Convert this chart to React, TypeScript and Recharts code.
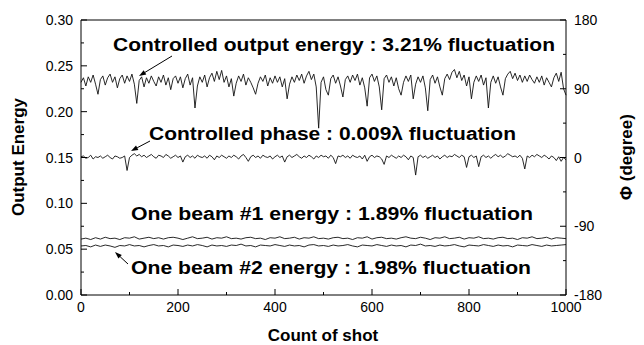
import { LineChart, Line, XAxis, YAxis, ReferenceLine } from "recharts";

// output energy, one value every 5 shots (0..1000)
const outputEnergy = [
  0.232, 0.237, 0.228, 0.238, 0.232, 0.24, 0.23, 0.219, 0.235, 0.239,
  0.229, 0.237, 0.241, 0.232, 0.238, 0.226, 0.236, 0.24, 0.231, 0.239,
  0.233, 0.241, 0.23, 0.209, 0.234, 0.238, 0.227, 0.237, 0.231, 0.239,
  0.233, 0.228, 0.238, 0.232, 0.24, 0.229, 0.237, 0.224, 0.236, 0.239,
  0.231, 0.238, 0.226, 0.236, 0.241, 0.229, 0.237, 0.204, 0.228, 0.238,
  0.232, 0.24, 0.227, 0.237, 0.242, 0.233, 0.244, 0.235, 0.245, 0.232,
  0.239, 0.227, 0.236, 0.217, 0.231, 0.239, 0.233, 0.241, 0.229, 0.237,
  0.232, 0.226, 0.219, 0.231, 0.238, 0.233, 0.24, 0.228, 0.237, 0.231,
  0.239, 0.232, 0.238, 0.227, 0.236, 0.214, 0.23, 0.238, 0.232, 0.24,
  0.234, 0.241, 0.231, 0.239, 0.244, 0.235, 0.241, 0.227, 0.182, 0.232,
  0.238, 0.224, 0.218, 0.236, 0.24, 0.231, 0.238, 0.228, 0.216, 0.235,
  0.239, 0.232, 0.24, 0.234, 0.241, 0.229, 0.237, 0.226, 0.206, 0.237,
  0.241, 0.233, 0.239, 0.227, 0.202, 0.236, 0.24, 0.232, 0.238, 0.228,
  0.237, 0.225, 0.218, 0.232, 0.239, 0.233, 0.24, 0.214, 0.23, 0.238,
  0.232, 0.239, 0.226, 0.201, 0.235, 0.24, 0.231, 0.238, 0.227, 0.218,
  0.236, 0.241, 0.235, 0.243, 0.246, 0.237, 0.244, 0.234, 0.24, 0.228,
  0.238, 0.214, 0.232, 0.239, 0.233, 0.24, 0.229, 0.237, 0.204, 0.232,
  0.239, 0.231, 0.238, 0.227, 0.218, 0.236, 0.241, 0.244, 0.236, 0.242,
  0.234, 0.24, 0.232, 0.239, 0.233, 0.24, 0.235, 0.231, 0.238, 0.232,
  0.239, 0.229, 0.237, 0.232, 0.227, 0.237, 0.242, 0.233, 0.243, 0.225,
  0.218,
];

// controlled phase in degrees, one value every 5 shots
const phaseDeg = [
  1, 2, -1, 0, 3, -2, 1, 0, 2, -1,
  1, 3, 0, -2, 2, 1, -1, 0, 2, -17,
  0, 3, 5, 2, 4, 1, 3, 0, 2, 4,
  1, -1, 3, 2, 0, 4, 2, -1, 1, 3,
  0, 2, -6, 1, 3, 0, 2, -1, 3, 1,
  0, 2, -1, 3, 1, -3, 2, 0, 3, 1,
  -1, 2, 0, 3, 1, -2, 2, 4, 0, -5,
  1, 3, 0, 2, -1, 3, 1, 0, 2, -2,
  1, 3, 0, 2, -6, 1, 3, 0, 2, 4,
  1, -1, 2, 0, 3, 1, -2, 2, 0, 3,
  1, 2, -1, 3, 0, -8, 2, 1, 3, 0,
  2, -1, 3, 1, 0, 2, -2, 3, -5, 1,
  3, 0, 2, 1, -2, -9, 2, 0, 3, 1,
  -1, 2, 0, 3, 1, -3, 2, 0, -23, 1,
  3, 0, 2, -1, 1, 3, 0, 2, -2, 1,
  3, 0, 2, 1, 4, 2, 0, 3, 1, -13,
  1, 3, 0, 2, -12, 1, 3, 0, 2, -1,
  2, 4, 1, 3, 0, 2, 5, 3, 1, 2,
  0, 3, -1, -15, 2, 0, 3, 1, 4, 2,
  0, 3, 1, -2, 2, 0, -4, 1, -5, 0,
  -3,
];

// single beam energies, one value every 10 shots
const beam1 = [
  0.061, 0.062, 0.0605, 0.0625, 0.061, 0.063, 0.0615, 0.062, 0.0605, 0.0625,
  0.062, 0.0635, 0.061, 0.062, 0.063, 0.0615, 0.0625, 0.061, 0.0625, 0.063,
  0.062, 0.0605, 0.062, 0.0635, 0.0615, 0.062, 0.063, 0.061, 0.0625, 0.062,
  0.0635, 0.0615, 0.062, 0.061, 0.0625, 0.063, 0.0615, 0.062, 0.0605, 0.0625,
  0.062, 0.0635, 0.0615, 0.062, 0.063, 0.061, 0.0625, 0.062, 0.0635, 0.0615,
  0.062, 0.061, 0.0625, 0.063, 0.0615, 0.062, 0.0605, 0.0625, 0.062, 0.0635,
  0.061, 0.0625, 0.063, 0.0615, 0.062, 0.061, 0.0625, 0.0635, 0.062, 0.0615,
  0.063, 0.062, 0.0605, 0.0625, 0.062, 0.0635, 0.0615, 0.062, 0.063, 0.061,
  0.0625, 0.062, 0.0635, 0.0615, 0.062, 0.061, 0.0625, 0.063, 0.0615, 0.062,
  0.0605, 0.0625, 0.062, 0.0635, 0.0615, 0.062, 0.063, 0.061, 0.0625, 0.062,
  0.0615,
];

const beam2 = [
  0.0535, 0.054, 0.0525, 0.0545, 0.053, 0.0545, 0.0535, 0.052, 0.054, 0.0535,
  0.055, 0.0535, 0.054, 0.0525, 0.054, 0.055, 0.0535, 0.054, 0.0525, 0.0545,
  0.054, 0.053, 0.0545, 0.0535, 0.055, 0.054, 0.0525, 0.0545, 0.0535, 0.054,
  0.053, 0.0545, 0.054, 0.0555, 0.0535, 0.054, 0.0525, 0.0545, 0.054, 0.0535,
  0.055, 0.054, 0.053, 0.0545, 0.0535, 0.054, 0.0525, 0.0545, 0.055, 0.0535,
  0.054, 0.053, 0.0545, 0.0535, 0.054, 0.055, 0.0535, 0.0525, 0.0545, 0.054,
  0.0535, 0.055, 0.054, 0.053, 0.0545, 0.0535, 0.054, 0.0525, 0.0545, 0.054,
  0.0555, 0.0535, 0.054, 0.053, 0.0545, 0.0535, 0.054, 0.055, 0.0535, 0.0525,
  0.0545, 0.054, 0.0535, 0.055, 0.054, 0.053, 0.0545, 0.0535, 0.054, 0.0525,
  0.0545, 0.054, 0.0535, 0.055, 0.054, 0.053, 0.0545, 0.0535, 0.054, 0.0545,
  0.055,
];

const xTicks = [0, 100, 200, 300, 400, 500, 600, 700, 800, 900, 1000];
const leftTicks = [0, 0.025, 0.05, 0.075, 0.1, 0.125, 0.15, 0.175, 0.2, 0.225, 0.25, 0.275, 0.3];
const rightTicks = [-180, -135, -90, -45, 0, 45, 90, 135, 180];

const energyData = outputEnergy.map((v, i) => ({ shot: i * 5, v }));
const phaseData = phaseDeg.map((v, i) => ({ shot: i * 5, v }));
const beam1Data = beam1.map((v, i) => ({ shot: i * 10, v }));
const beam2Data = beam2.map((v, i) => ({ shot: i * 10, v }));

const FONT = "'Liberation Sans', Arial, Helvetica, sans-serif";

function BottomTick({ x, y, payload }: any) {
  const major = payload.value % 200 === 0;
  return (
    <g>
      <line x1={x} x2={x} y1={y} y2={y - (major ? 6 : 3)} stroke="#000" />
      {major && (
        <text x={x} y={y + 17} textAnchor="middle" fontSize={14} fontFamily={FONT} fill="#000">
          {payload.value}
        </text>
      )}
    </g>
  );
}

function LeftTick({ x, y, payload }: any) {
  const major = Math.round(payload.value * 1000) % 50 === 0;
  return (
    <g>
      <line x1={x} x2={x + (major ? 6 : 3)} y1={y} y2={y} stroke="#000" />
      {major && (
        <text x={x - 8} y={y + 5} textAnchor="end" fontSize={14} fontFamily={FONT} fill="#000">
          {payload.value.toFixed(2)}
        </text>
      )}
    </g>
  );
}

function RightTick({ x, y, payload }: any) {
  const major = payload.value % 90 === 0;
  return (
    <g>
      <line x1={x} x2={x - (major ? 6 : 3)} y1={y} y2={y} stroke="#000" />
      {major && (
        <text x={x + 8} y={y + 5} textAnchor="start" fontSize={14} fontFamily={FONT} fill="#000">
          {payload.value}
        </text>
      )}
    </g>
  );
}

function Arrow({ x1, y1, x2, y2 }: { x1: number; y1: number; x2: number; y2: number }) {
  const a = Math.atan2(y2 - y1, x2 - x1);
  const len = 7;
  const w = 2.5;
  const bx = x2 - len * Math.cos(a);
  const by = y2 - len * Math.sin(a);
  const px = -Math.sin(a) * w;
  const py = Math.cos(a) * w;
  return (
    <g>
      <line x1={x1} y1={y1} x2={bx} y2={by} stroke="#000" strokeWidth={1} />
      <polygon points={`${x2},${y2} ${bx + px},${by + py} ${bx - px},${by - py}`} fill="#000" />
    </g>
  );
}

export default function App() {
  const noteStyle = { fontFamily: FONT, fontWeight: 700, fontSize: 18, fill: "#000" } as const;
  const axisTitle = { fontFamily: FONT, fontWeight: 700, fontSize: 17, fill: "#000" } as const;
  return (
    <div style={{ position: "absolute", left: 0, top: 0, width: 644, height: 345, background: "#fff" }}>
      <LineChart width={644} height={345} margin={{ top: 20, right: 0, bottom: 0, left: 0 }}>
        <XAxis
          type="number"
          dataKey="shot"
          domain={[0, 1000]}
          ticks={xTicks}
          interval={0}
          height={50}
          tickSize={0}
          tickMargin={0}
          tickLine={false}
          axisLine={{ stroke: "#000" }}
          tick={<BottomTick />}
          allowDuplicatedCategory={false}
        />
        <YAxis
          yAxisId="left"
          type="number"
          domain={[0, 0.3]}
          ticks={leftTicks}
          interval={0}
          width={81}
          tickSize={0}
          tickMargin={0}
          tickLine={false}
          axisLine={{ stroke: "#000" }}
          tick={<LeftTick />}
          allowDataOverflow
        />
        <YAxis
          yAxisId="right"
          orientation="right"
          type="number"
          domain={[-180, 180]}
          ticks={rightTicks}
          interval={0}
          width={78}
          tickSize={0}
          tickMargin={0}
          tickLine={false}
          axisLine={{ stroke: "#000" }}
          tick={<RightTick />}
          allowDataOverflow
        />
        <ReferenceLine yAxisId="left" y={0.3} stroke="#000" />
        <Line yAxisId="left" data={energyData} dataKey="v" stroke="#111" strokeWidth={0.9} dot={false} isAnimationActive={false} />
        <Line yAxisId="right" data={phaseData} dataKey="v" stroke="#111" strokeWidth={0.9} dot={false} isAnimationActive={false} />
        <Line yAxisId="left" data={beam1Data} dataKey="v" stroke="#111" strokeWidth={0.9} dot={false} isAnimationActive={false} />
        <Line yAxisId="left" data={beam2Data} dataKey="v" stroke="#111" strokeWidth={0.9} dot={false} isAnimationActive={false} />
      </LineChart>
      <svg width={644} height={345} style={{ position: "absolute", left: 0, top: 0, pointerEvents: "none" }}>
        <text x={113} y={51} textLength={442} lengthAdjust="spacingAndGlyphs" style={noteStyle}>
          Controlled output energy : 3.21% fluctuation
        </text>
        <text x={149} y={140} textLength={367} lengthAdjust="spacingAndGlyphs" style={noteStyle}>
          Controlled phase : 0.009λ fluctuation
        </text>
        <text x={131} y={220} textLength={402} lengthAdjust="spacingAndGlyphs" style={noteStyle}>
          One beam #1 energy : 1.89% fluctuation
        </text>
        <text x={131} y={274} textLength={400} lengthAdjust="spacingAndGlyphs" style={noteStyle}>
          One beam #2 energy : 1.98% fluctuation
        </text>
        <Arrow x1={172} y1={56} x2={139} y2={76} />
        <Arrow x1={150} y1={141} x2={131} y2={151} />
        <Arrow x1={128} y1={264} x2={115} y2={252} />
        <text x={323} y={341} textAnchor="middle" style={axisTitle}>
          Count of shot
        </text>
        <text x={0} y={0} textAnchor="middle" transform="translate(24,157) rotate(-90)" style={axisTitle}>
          Output Energy
        </text>
        <text x={0} y={0} textAnchor="middle" transform="translate(632,157) rotate(-90)" style={axisTitle}>
          Φ (degree)
        </text>
      </svg>
    </div>
  );
}
